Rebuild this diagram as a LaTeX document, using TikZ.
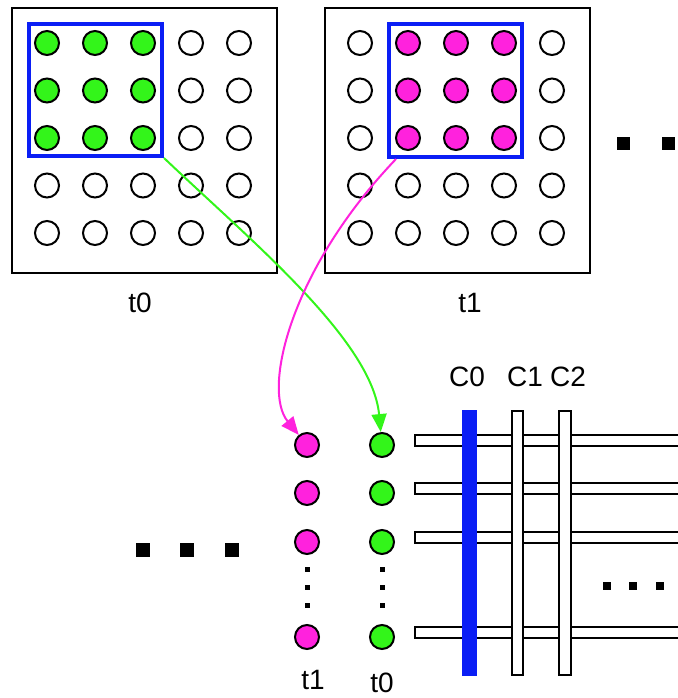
\documentclass[tikz,border=0pt]{standalone}
\usepackage{fontspec}
\setmainfont{Liberation Sans}
\usetikzlibrary{arrows.meta}
\definecolor{lime}{HTML}{33F51A}
\definecolor{pink}{HTML}{FF22DD}
\definecolor{blue}{HTML}{0A1EF5}

\tikzset{
	pix/.style={circle,draw,line width=2pt,minimum size=24pt,inner sep=0pt},
	frame/.style={draw,line width=2pt,minimum width=265pt,minimum height=265pt,inner sep=0pt},
	win/.style={draw=blue,line width=4pt,inner sep=0pt},
	blk/.style={fill=black,inner sep=0pt,minimum size=#1},
	link/.style={-{Triangle[length=18pt,width=15pt]},line width=2pt},
	bar/.style={draw,fill=white,line width=2pt},
	col/.style={draw,fill=white,line width=2pt,inner sep=0pt,minimum height=264pt}
}

\begin{document}
\begin{tikzpicture}[x=1pt,y=-1pt,font=\fontsize{28}{32}\selectfont]
	\useasboundingbox (0,0) rectangle (677,698);

	% the two input frames
	\node[frame] (f0) at (144.5,140.5) {};
	\node[frame] (f1) at (457,140.5) {};
	\node (l0) at (140,303) {t0};
	\node (l1) at (470,303) {t1};

	\foreach \r in {0,...,4}
		\foreach \c in {0,...,4} {
			\def\fa{white}\def\fb{white}
			\ifnum\r<3 \ifnum\c<3 \def\fa{lime}\fi\fi
			\ifnum\r<3 \ifnum\c>0 \ifnum\c<4 \def\fb{pink}\fi\fi\fi
			\node[pix,fill=\fa] (a\r\c) at (47+48*\c,43+47.5*\r) {};
			\node[pix,fill=\fb] (b\r\c) at (360+48*\c,43+47.5*\r) {};
		}

	\node[win,minimum width=133pt,minimum height=132pt] (w0) at (95.5,90) {};
	\node[win,minimum width=133pt,minimum height=133pt] (w1) at (455.5,90.5) {};

	\node[blk=13pt] (d0) at (623,143) {};
	\node[blk=13pt] (d1) at (668,143) {};

	% unrolled columns
	\foreach \y [count=\i from 0] in {445,493,542,637} {
		\node[pix,fill=pink] (p\i) at (307,\y) {};
		\node[pix,fill=lime] (g\i) at (382,\y) {};
	}
	\foreach \y in {569,587,605} {
		\node[blk=5pt] at (307,\y) {};
		\node[blk=5pt] at (382,\y) {};
	}
	\node (lp) at (313,680) {t1};
	\node (lg) at (382,683) {t0};

	\node[blk=14pt] (e0) at (143,550) {};
	\node[blk=14pt] (e1) at (187,550) {};
	\node[blk=14pt] (e2) at (232,550) {};

	% crossbar
	\foreach \y in {440.5,488.5,537,632.5}
		\draw[bar] (679,\y-5.5) -- (415,\y-5.5) -- (415,\y+5.5) -- (679,\y+5.5);
	\node[col,draw=blue,fill=blue,minimum width=13pt] (c0) at (469.5,542.5) {};
	\node[col,minimum width=11pt] (c1) at (517.5,543) {};
	\node[col,minimum width=12pt] (c2) at (565,543) {};
	\node (k0) at (467,377) {C0};
	\node (k1) at (525,377) {C1};
	\node (k2) at (568,377) {C2};

	\node[blk=8pt] (h0) at (607,586) {};
	\node[blk=8pt] (h1) at (633,586) {};
	\node[blk=8pt] (h2) at (660,586) {};

	\draw[link,lime] (w0.south east) .. controls (250,240) and (372,340) .. (g0);
	\draw[link,pink] ([xshift=9pt]w1.south west) .. controls (290,270) and (262,390) .. (p0);
\end{tikzpicture}
\end{document}
